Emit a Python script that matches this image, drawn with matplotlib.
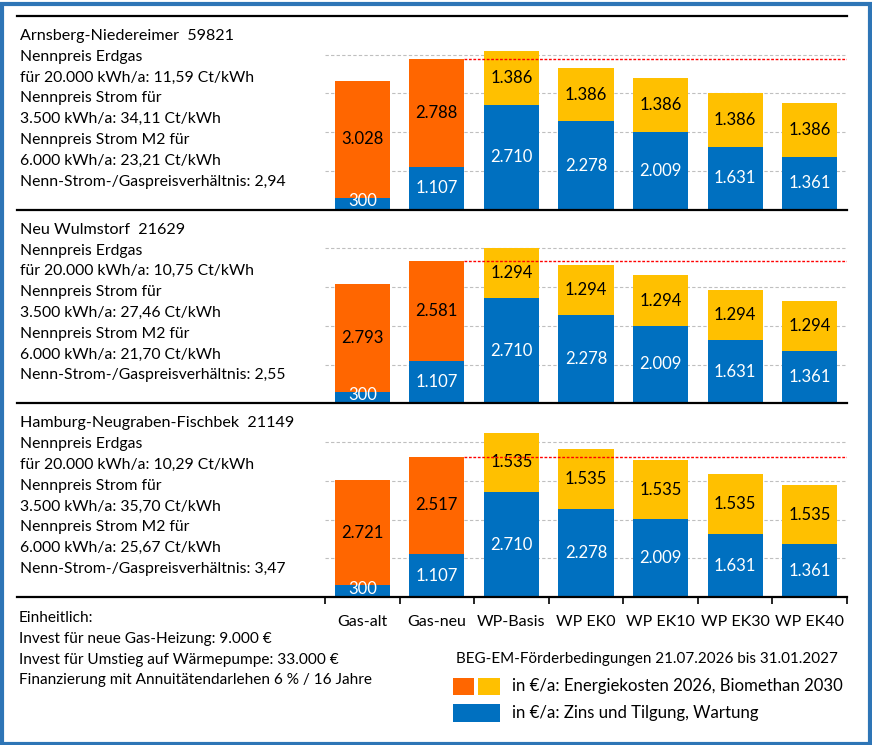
import matplotlib
matplotlib.use('Agg')
import matplotlib.pyplot as plt
from matplotlib.lines import Line2D
from matplotlib.patches import Rectangle

plt.rcParams['font.family'] = ['Lato', 'DejaVu Sans']

# Daten
kategorien = ['Gas-alt', 'Gas-neu', 'WP-Basis', 'WP EK0', 'WP EK10', 'WP EK30', 'WP EK40']
zins_tilgung = [300, 1107, 2710, 2278, 2009, 1631, 1361]
energie_arnsberg = [3028, 2788, 1386, 1386, 1386, 1386, 1386]
energie_wulmstorf = [2793, 2581, 1294, 1294, 1294, 1294, 1294]
energie_hamburg = [2721, 2517, 1535, 1535, 1535, 1535, 1535]

orte = [
    'Arnsberg-Niedereimer  59821',
    'Neu Wulmstorf  21629',
    'Hamburg-Neugraben-Fischbek  21149',
]
ort_texte = [
    ['Nennpreis Erdgas', 'für 20.000 kWh/a: 11,59 Ct/kWh', 'Nennpreis Strom für',
     '3.500 kWh/a: 34,11 Ct/kWh', 'Nennpreis Strom M2 für', '6.000 kWh/a: 23,21 Ct/kWh',
     'Nenn-Strom-/Gaspreisverhältnis: 2,94'],
    ['Nennpreis Erdgas', 'für 20.000 kWh/a: 10,75 Ct/kWh', 'Nennpreis Strom für',
     '3.500 kWh/a: 27,46 Ct/kWh', 'Nennpreis Strom M2 für', '6.000 kWh/a: 21,70 Ct/kWh',
     'Nenn-Strom-/Gaspreisverhältnis: 2,55'],
    ['Nennpreis Erdgas', 'für 20.000 kWh/a: 10,29 Ct/kWh', 'Nennpreis Strom für',
     '3.500 kWh/a: 35,70 Ct/kWh', 'Nennpreis Strom M2 für', '6.000 kWh/a: 25,67 Ct/kWh',
     'Nenn-Strom-/Gaspreisverhältnis: 3,47'],
]
energie = [energie_arnsberg, energie_wulmstorf, energie_hamburg]

einheitlich = ['Einheitlich:', 'Invest für neue Gas-Heizung: 9.000 €',
               'Invest für Umstieg auf Wärmepumpe: 33.000 €',
               'Finanzierung mit Annuitätendarlehen 6 % / 16 Jahre']

ORANGE = '#FF6600'
GELB = '#FFC000'
BLAU = '#0070C0'

W, H = 872, 745
fig = plt.figure(figsize=(W / 100, H / 100), dpi=100)


def fx(x):
    return x / W


def fy(y):
    return 1 - y / H


# Rahmen aussen
fig.patches.append(Rectangle((fx(1.5), fy(743.5)), fx(868), 740 / H, transform=fig.transFigure,
                             fill=False, edgecolor='#2E75B6', linewidth=3))

oben = [16, 209.7, 403.4]
hoehe = 193.7
ax_left, ax_right = 325, 847

for p in range(3):
    ax = fig.add_axes([fx(ax_left), fy(oben[p] + hoehe), (ax_right - ax_left) / W, hoehe / H])
    x = range(len(kategorien))
    ax.bar(x, zins_tilgung, width=0.74, color=BLAU, zorder=3)
    farben = [ORANGE, ORANGE] + [GELB] * 5
    ax.bar(x, energie[p], bottom=zins_tilgung, width=0.74, color=farben, zorder=3)
    for i in x:
        b = zins_tilgung[i]
        e = energie[p][i]
        ax.text(i, b / 2 if b > 600 else b / 2 + 70, f'{b:,}'.replace(',', '.'),
                ha='center', va='center', color='white', fontsize=12, zorder=4)
        ax.text(i, b + e / 2, f'{e:,}'.replace(',', '.'),
                ha='center', va='center', color='black', fontsize=12, zorder=4)
    gas_neu = zins_tilgung[1] + energie[p][1]
    ax.hlines(gas_neu, 1.37, 6.5, colors='#FF0000', linestyles=(0, (2, 1.2)), linewidth=1, zorder=5)
    ax.set_xlim(-0.5, 6.5)
    ax.set_ylim(0, 5000)
    ax.set_yticks([1000, 2000, 3000, 4000])
    ax.yaxis.grid(True, color='#BFBFBF', linestyle=(0, (3, 2)), linewidth=0.8)
    ax.tick_params(axis='y', length=0, labelleft=False)
    for s in ax.spines.values():
        s.set_visible(False)
    if p < 2:
        ax.set_xticks([])
    else:
        ax.set_xticks(list(x))
        ax.set_xticklabels(kategorien, fontsize=11.5)
        ax.tick_params(axis='x', length=0, pad=13)
        ax.set_xticks([i - 0.5 for i in range(8)], minor=True)
        ax.tick_params(axis='x', which='minor', length=5, width=1.2, direction='out', color='black')

    # Text links
    fig.text(fx(20), fy(oben[p] + 24), orte[p], fontsize=11.6, va='baseline')
    for k, t in enumerate(ort_texte[p]):
        fig.text(fx(20), fy(oben[p] + 24 + 20.8 * (k + 1)), t, fontsize=11.3, va='baseline')

# schwarze Trennlinien
for y in oben + [oben[2] + hoehe]:
    fig.add_artist(Line2D([fx(17), fx(847)], [fy(y), fy(y)], color='black', linewidth=1.6))

# unten links
for k, t in enumerate(einheitlich):
    fig.text(fx(19), fy(622 + 20.8 * k), t, fontsize=11.1, va='baseline')

fig.text(fx(456), fy(663), 'BEG-EM-Förderbedingungen 21.07.2026 bis 31.01.2027', fontsize=10.9,
         va='baseline')

# Legende
fig.patches.append(Rectangle((fx(453), fy(695)), 21 / W, 17 / H, transform=fig.transFigure,
                             facecolor=ORANGE, edgecolor='none'))
fig.patches.append(Rectangle((fx(478), fy(695)), 22 / W, 17 / H, transform=fig.transFigure,
                             facecolor=GELB, edgecolor='none'))
fig.patches.append(Rectangle((fx(453), fy(722)), 47 / W, 18 / H, transform=fig.transFigure,
                             facecolor=BLAU, edgecolor='none'))
fig.text(fx(512), fy(686), 'in €/a: Energiekosten 2026, Biomethan 2030', fontsize=12.1, va='center')
fig.text(fx(512), fy(713), 'in €/a: Zins und Tilgung, Wartung', fontsize=12.1, va='center')

fig.savefig('out.png', dpi=100)
